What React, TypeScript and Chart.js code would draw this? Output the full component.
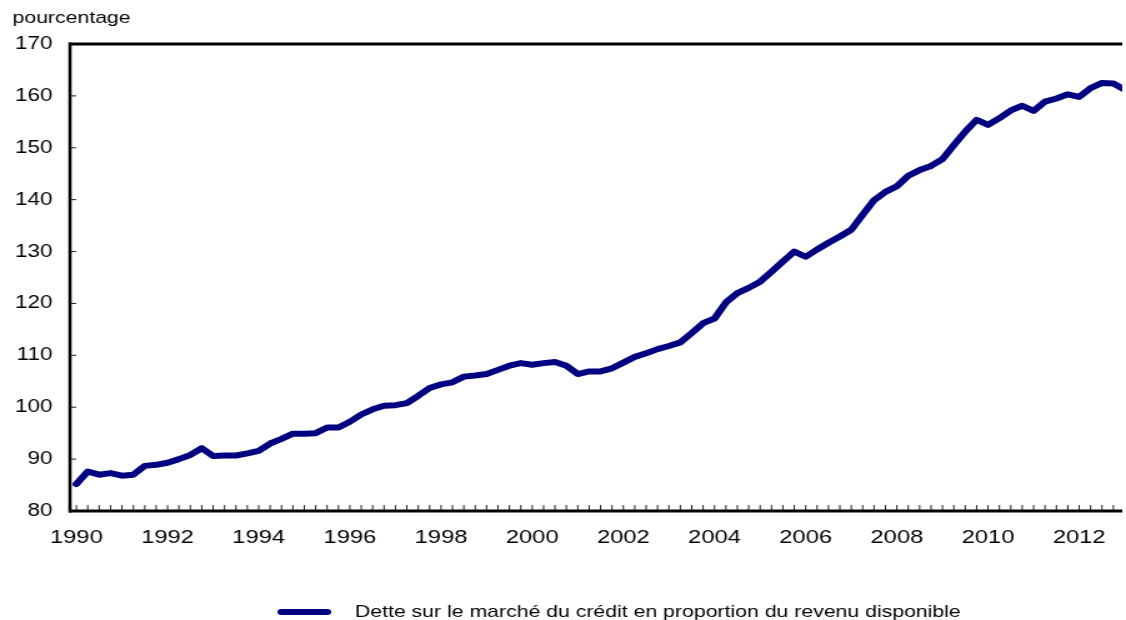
import React, { useEffect, useRef } from "react";
import { Chart, registerables } from "chart.js";

Chart.register(...registerables);

// Quarterly series, 1990 Q1 onward (percent of disposable income)
const START_YEAR = 1990;
const ratio = [
  85.2, 87.6, 87.0, 87.3,
  86.8, 87.0, 88.7, 88.9,
  89.3, 90.0, 90.8, 92.1,
  90.6, 90.7, 90.7, 91.1,
  91.6, 93.0, 93.9, 94.9,
  94.9, 95.0, 96.1, 96.1,
  97.2, 98.6, 99.6, 100.3,
  100.4, 100.8, 102.2, 103.7,
  104.4, 104.8, 105.9, 106.1,
  106.4, 107.2, 108.0, 108.5,
  108.2, 108.5, 108.7, 108.0,
  106.4, 106.9, 106.9, 107.5,
  108.6, 109.7, 110.4, 111.2,
  111.8, 112.5, 114.3, 116.2,
  117.1, 120.2, 122.0, 123.0,
  124.2, 126.1, 128.1, 130.0,
  129.0, 130.4, 131.7, 132.9,
  134.2, 137.1, 139.9, 141.5,
  142.6, 144.6, 145.7, 146.5,
  147.8, 150.5, 153.1, 155.4,
  154.4, 155.7, 157.2, 158.1,
  157.1, 158.9, 159.5, 160.3,
  159.8, 161.5, 162.5, 162.4,
  161.2,
];
const yearTicks = [1990, 1992, 1994, 1996, 1998, 2000, 2002, 2004, 2006, 2008, 2010, 2012];
const yTicks = [80, 90, 100, 110, 120, 130, 140, 150, 160, 170];
const unitLabel = "pourcentage";
const seriesLabel = "Dette sur le marché du crédit en proportion du revenu disponible";

const NAVY = "#000080";
const FONT = '"Liberation Sans", Arial, Helvetica, sans-serif';
const STRETCH = 1126 / 901;

const decor = {
  id: "decor",
  afterDraw(chart: any) {
    const { ctx, chartArea: a, scales } = chart;
    const x = scales.x;
    const y = scales.y;
    ctx.save();
    const seg = (x1: number, y1: number, x2: number, y2: number) => {
      ctx.beginPath();
      ctx.moveTo(x1, y1);
      ctx.lineTo(x2, y2);
      ctx.stroke();
    };
    // quarterly minor ticks
    ctx.strokeStyle = "#222";
    ctx.lineWidth = 1;
    for (let i = 0; i < ratio.length; i++) {
      const px = x.getPixelForValue(START_YEAR + i / 4);
      if (px > a.right) break;
      seg(px, a.bottom, px, a.bottom - 6);
    }
    // y ticks inward
    for (const v of yTicks) {
      const py = y.getPixelForValue(v);
      seg(a.left, py, a.left + 5, py);
    }
    // axes frame
    ctx.strokeStyle = "#000";
    ctx.lineWidth = 3;
    seg(a.left - 1, a.top, a.right, a.top);
    seg(a.left - 1, a.bottom, a.right, a.bottom);
    ctx.lineWidth = 2.6;
    seg(a.left, a.top - 1.5, a.left, a.bottom + 1.5);
    // unit label
    ctx.fillStyle = "#000";
    ctx.font = `17px ${FONT}`;
    ctx.textAlign = "left";
    ctx.textBaseline = "middle";
    ctx.fillText(unitLabel, 10, 18);
    // legend
    const ly = 612;
    ctx.strokeStyle = NAVY;
    ctx.lineWidth = 6;
    ctx.lineCap = "round";
    seg(225, ly, 262, ly);
    ctx.font = `17px ${FONT}`;
    ctx.fillText(seriesLabel, 284, ly);
    ctx.restore();
  },
};

export default function App() {
  const ref = useRef<HTMLCanvasElement | null>(null);

  useEffect(() => {
    document.body.style.margin = "0";
    const points = ratio.map((v, i) => ({ x: START_YEAR + i / 4, y: v }));
    const chart = new Chart(ref.current as HTMLCanvasElement, {
      type: "line",
      data: {
        datasets: [
          {
            label: seriesLabel,
            data: points,
            borderColor: NAVY,
            backgroundColor: NAVY,
            borderWidth: 6,
            pointRadius: 0,
            tension: 0,
            borderJoinStyle: "round",
            borderCapStyle: "round",
          },
        ],
      },
      options: {
        animation: false,
        responsive: true,
        maintainAspectRatio: false,
        devicePixelRatio: 1,
        layout: { padding: { top: 44, left: 10, right: 0, bottom: 69 } },
        plugins: {
          legend: { display: false },
          tooltip: { enabled: false },
          title: { display: false },
        },
        scales: {
          x: {
            type: "linear",
            min: 1989.86,
            max: 2012.945,
            grid: { display: false, drawTicks: false },
            border: { display: false },
            afterBuildTicks: (scale: any) => {
              scale.ticks = yearTicks.map((v) => ({ value: v }));
            },
            afterFit: (scale: any) => {
              scale.height = 40;
            },
            ticks: {
              autoSkip: false,
              maxRotation: 0,
              padding: 15,
              color: "#000",
              font: { family: FONT, size: 19 },
              callback: (v: any) => String(v),
            },
          },
          y: {
            type: "linear",
            min: 80,
            max: 170,
            grid: { display: false, drawTicks: false },
            border: { display: false },
            afterBuildTicks: (scale: any) => {
              scale.ticks = yTicks.map((v) => ({ value: v }));
            },
            afterFit: (scale: any) => {
              scale.width = 46;
            },
            ticks: {
              padding: 14,
              color: "#000",
              font: { family: FONT, size: 18 },
              callback: (v: any) => String(v),
            },
          },
        },
      },
      plugins: [decor],
    });
    return () => chart.destroy();
  }, []);

  return (
    <div style={{ position: "absolute", left: 0, top: 0, width: 1126, height: 620, overflow: "hidden", background: "#fff" }}>
      <div
        style={{
          width: 901,
          height: 620,
          transform: `scaleX(${STRETCH})`,
          transformOrigin: "0 0",
        }}
      >
        <canvas ref={ref} />
      </div>
    </div>
  );
}
